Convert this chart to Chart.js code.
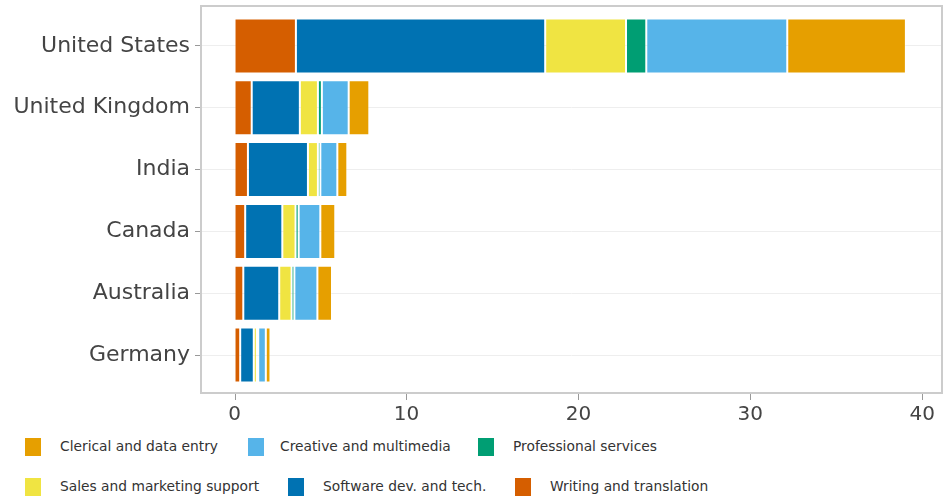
<!DOCTYPE html>
<html>
<head>
<meta charset="utf-8">
<script src="https://cdn.jsdelivr.net/npm/chart.js@4"></script>
<style>
  body { margin: 0; background: #fff; font-family: "DejaVu Sans", sans-serif; }
  #wrap { position: relative; width: 944px; height: 497px; }
  #chartBox { position: absolute; left: 0; top: 0; width: 944px; height: 430px; }
  #legend { position: absolute; left: 0; top: 430px; width: 944px; height: 67px; }
  .item { position: absolute; font-size: 13.8px; color: #333; white-space: nowrap; }
  .item span.box { position: absolute; left: 0; top: -9px; width: 16px; height: 18px; }
  .item span.txt { position: absolute; top: -9px; }
</style>
</head>
<body>
<div id="wrap">
  <div id="chartBox"><canvas id="myChart"></canvas></div>
  <div id="legend"></div>
</div>
<script>
// Pays (de haut en bas)
var countries = ["United States", "United Kingdom", "India", "Canada", "Australia", "Germany"];

// Séries, dans l'ordre d'empilement (de gauche à droite)
var writing     = [3.57, 1.00, 0.78, 0.62, 0.51, 0.33];
var software    = [14.5, 2.80, 3.49, 2.16, 2.09, 0.79];
var sales       = [4.70, 1.05, 0.58, 0.77, 0.72, 0.18];
var professional= [1.18, 0.23, 0.14, 0.18, 0.16, 0.08];
var creative    = [8.20, 1.56, 0.99, 1.26, 1.34, 0.44];
var clerical    = [6.90, 1.20, 0.58, 0.87, 0.85, 0.27];

var xTicks = [0, 10, 20, 30, 40];

var series = [
    { label: "Writing and translation", data: writing, color: "#D55E00" },
    { label: "Software dev. and tech.", data: software, color: "#0072B2" },
    { label: "Sales and marketing support", data: sales, color: "#F0E442" },
    { label: "Professional services", data: professional, color: "#009E73" },
    { label: "Creative and multimedia", data: creative, color: "#56B4E9" },
    { label: "Clerical and data entry", data: clerical, color: "#E69F00" }
];

// Légende (ordre alphabétique, deux lignes)
var legendRows = [
    [["Clerical and data entry", 25, 60], ["Creative and multimedia", 248, 280], ["Professional services", 478, 513]],
    [["Sales and marketing support", 25, 60], ["Software dev. and tech.", 288, 323], ["Writing and translation", 515, 550]]
];
var legendY = [17, 57];

function colorOf(label) {
    for (var i = 0; i < series.length; i++) {
        if (series[i].label === label) return series[i].color;
    }
    return "#000";
}

function buildLegend() {
    var legend = document.getElementById("legend");
    legendRows.forEach(function(row, r) {
        row.forEach(function(it) {
            var div = document.createElement("div");
            div.className = "item";
            div.style.left = it[1] + "px";
            div.style.top = legendY[r] + "px";
            var box = document.createElement("span");
            box.className = "box";
            box.style.background = colorOf(it[0]);
            var txt = document.createElement("span");
            txt.className = "txt";
            txt.style.left = (it[2] - it[1]) + "px";
            txt.textContent = it[0];
            div.appendChild(box);
            div.appendChild(txt);
            legend.appendChild(div);
        });
    });
}

// Plugin : cadre gris autour de la zone de tracé + graduations de l'axe x
var framePlugin = {
    id: "frame",
    afterDraw: function(chart) {
        var ctx = chart.ctx;
        var a = chart.chartArea;
        var top = a.top - 9, bottom = a.bottom + 7;
        ctx.save();
        ctx.strokeStyle = "#cccccc";
        ctx.lineWidth = 2;
        ctx.strokeRect(a.left, top, a.right - a.left, bottom - top);
        ctx.strokeStyle = "#999";
        ctx.lineWidth = 1;
        var xs = chart.scales.x;
        xTicks.forEach(function(v) {
            var px = Math.round(xs.getPixelForValue(v)) + 0.5;
            ctx.beginPath();
            ctx.moveTo(px, bottom + 1);
            ctx.lineTo(px, bottom + 7);
            ctx.stroke();
        });
        ctx.restore();
    }
};

var myChart = null;

function drawChart() {
    var ctx = document.getElementById("myChart").getContext("2d");

    myChart = new Chart(ctx, {
        type: "bar",
        data: {
            labels: countries,
            datasets: series.map(function(s) {
                return {
                    label: s.label,
                    data: s.data,
                    backgroundColor: s.color,
                    borderColor: "rgba(255,255,255,0.3)",
                    borderWidth: 1,
                    borderSkipped: false,
                    categoryPercentage: 1,
                    barPercentage: 0.89
                };
            })
        },
        plugins: [framePlugin],
        options: {
            indexAxis: "y",
            responsive: true,
            maintainAspectRatio: false,
            animation: false,
            layout: { padding: { top: 15, right: 2, left: 0, bottom: 0 } },
            plugins: {
                legend: { display: false },
                tooltip: { enabled: false }
            },
            scales: {
                x: {
                    stacked: true,
                    min: -1.95,
                    max: 41.15,
                    afterBuildTicks: function(scale) {
                        scale.ticks = xTicks.map(function(v) { return { value: v }; });
                    },
                    afterFit: function(scale) {
                        scale.height = 44;
                        scale.paddingLeft = 0;
                        scale.paddingRight = 0;
                    },
                    grid: { display: false, drawTicks: false },
                    border: { display: false },
                    ticks: {
                        padding: 17,
                        color: "#444",
                        font: { family: "DejaVu Sans", size: 20 }
                    }
                },
                y: {
                    stacked: true,
                    afterFit: function(scale) {
                        scale.width = 201;
                        scale.paddingTop = 0;
                        scale.paddingBottom = 0;
                    },
                    grid: {
                        offset: false,
                        color: "#eeeeee",
                        lineWidth: 1,
                        tickLength: 6,
                        tickColor: "#999"
                    },
                    border: { display: false },
                    ticks: {
                        padding: 5,
                        color: "#444",
                        font: { family: "DejaVu Sans", size: 22 }
                    }
                }
            }
        }
    });
}

window.onload = function() {
    buildLegend();
    drawChart();
};
</script>
</body>
</html>
